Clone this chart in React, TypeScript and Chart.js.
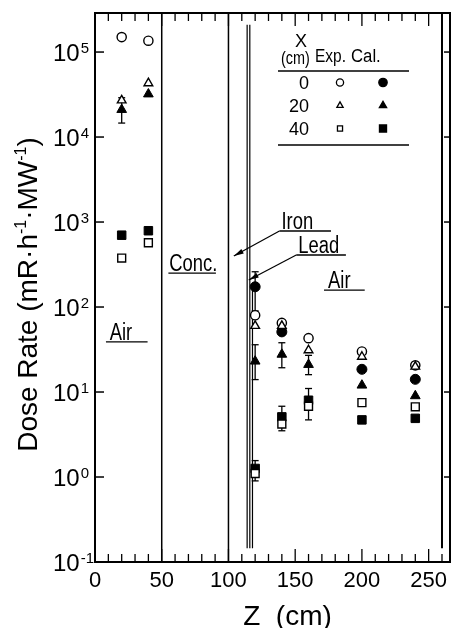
import React, { useEffect, useRef } from "react";
import { Chart, registerables } from "chart.js";

Chart.register(...registerables);

// ---- axis ticks ----
const zTickLabels = [0, 50, 100, 150, 200, 250];
const zMinorTicks = [0, 10, 20, 30, 40, 50, 60, 70, 80, 90, 100, 110, 120, 130, 140, 150, 160, 170, 180, 190, 200, 210, 220, 230, 240, 250, 260];
const decadeExponents = [-1, 0, 1, 2, 3, 4, 5];

// ---- measured (Exp.) dose rates, mR/h/MW, for X = 0, 20, 40 cm ----
const zExp = [20, 40, 120, 140, 160, 200, 240];
const exp0 = [1.5e5, 1.36e5, 80, 65, 43, 30, 20.6];
const exp20 = [2.7e4, 4.3e4, 60, 60, 31, 26, 19.9];
const exp40 = [377, 570, 1.1, 4.2, 6.8, 7.5, 6.7];

// ---- calculated (Cal.) dose rates ----
const zCal0 = [120, 140, 200, 240];
const cal0 = [173, 51, 18.5, 14.1];
const zCal = [20, 40, 120, 140, 160, 200, 240];
const cal20 = [2.1e4, 3.2e4, 23, 27.7, 21, 12, 9.0];
const cal40 = [700, 790, 1.26, 5.1, 8.0, 4.7, 4.9];

// ---- error bars ----
const errZ = [20, 120, 120, 120, 140, 140, 160, 160];
const errLow = [1.46e4, 90, 14, 0.9, 19.3, 3.5, 16, 4.7];
const errHigh = [2.9e4, 260, 36, 1.56, 38, 6.8, 27, 11];

// ---- material boundaries (cm); null span = full height ----
const boundaryZ = [50, 100, 114, 116, 118, 260];
const boundaryTop: (number | null)[] = [null, null, 2.1e5, 2.1e5, 170, null];
const boundaryBottom: (number | null)[] = [null, null, 0.145, 0.145, 0.145, 0.145];
const boundaryWidth = [1.5, 1.5, 1.2, 1.2, 1.2, 2];

// ---- region labels ----
const regionLabels = ["Air", "Conc.", "Iron", "Lead", "Air"];
const regionLabelZ = [11, 55.7, 139.7, 152.3, 174.6];
const regionLabelV = [41, 265, 828, 432, 167];
const regionLineZ0 = [8.2, 55, 138.2, 150.8, 171.6];
const regionLineZ1 = [39.4, 90.6, 176.8, 188, 202.1];
const arrowLabelIndex = [2, 3];
const arrowToZ = [104, 115.2];
const arrowToV = [398, 208];

// ---- legend table ----
const legendX = ["0", "20", "40"];
const legendShapes = ["circle", "triangle", "rect"];

const FONT = '"Liberation Sans", Arial, Helvetica, sans-serif';

function text(
  ctx: CanvasRenderingContext2D,
  s: string,
  x: number,
  y: number,
  size: number,
  align: CanvasTextAlign = "left",
  squeeze = 1
) {
  ctx.save();
  ctx.font = `${size}px ${FONT}`;
  ctx.textAlign = align;
  ctx.textBaseline = "alphabetic";
  ctx.fillStyle = "#000";
  ctx.translate(x, y);
  ctx.scale(squeeze, 1);
  ctx.fillText(s, 0, 0);
  ctx.restore();
}

function textWidth(ctx: CanvasRenderingContext2D, s: string, size: number, squeeze = 1) {
  ctx.save();
  ctx.font = `${size}px ${FONT}`;
  const w = ctx.measureText(s).width * squeeze;
  ctx.restore();
  return w;
}

function line(ctx: CanvasRenderingContext2D, x0: number, y0: number, x1: number, y1: number, w: number) {
  ctx.save();
  ctx.strokeStyle = "#000";
  ctx.lineWidth = w;
  ctx.beginPath();
  ctx.moveTo(x0, y0);
  ctx.lineTo(x1, y1);
  ctx.stroke();
  ctx.restore();
}

function marker(ctx: CanvasRenderingContext2D, shape: string, x: number, y: number, r: number, filled: boolean) {
  ctx.save();
  ctx.beginPath();
  if (shape === "circle") {
    ctx.arc(x, y, r, 0, Math.PI * 2);
  } else if (shape === "triangle") {
    ctx.moveTo(x, y - r);
    ctx.lineTo(x + r * 0.866, y + r * 0.5);
    ctx.lineTo(x - r * 0.866, y + r * 0.5);
    ctx.closePath();
  } else {
    const s = r * Math.SQRT1_2;
    ctx.rect(x - s, y - s, 2 * s, 2 * s);
  }
  ctx.fillStyle = filled ? "#000" : "#fff";
  ctx.fill();
  ctx.lineWidth = 1.3;
  ctx.strokeStyle = "#000";
  ctx.stroke();
  ctx.restore();
}

const decor = {
  id: "decor",
  beforeDatasetsDraw(chart: any) {
    const ctx: CanvasRenderingContext2D = chart.ctx;
    const xs = chart.scales.x;
    const ys = chart.scales.y;
    const a = chart.chartArea;

    // material boundaries
    boundaryZ.forEach((z, i) => {
      const x = xs.getPixelForValue(z);
      const t = boundaryTop[i] == null ? a.top : ys.getPixelForValue(boundaryTop[i]);
      const b = boundaryBottom[i] == null ? a.bottom : ys.getPixelForValue(boundaryBottom[i]);
      line(ctx, x, t, x, b, boundaryWidth[i]);
    });

    // error bars
    errZ.forEach((z, i) => {
      const x = xs.getPixelForValue(z);
      const y0 = ys.getPixelForValue(errLow[i]);
      const y1 = ys.getPixelForValue(errHigh[i]);
      line(ctx, x, y0, x, y1, 1.3);
      line(ctx, x - 3.5, y0, x + 3.5, y0, 1.3);
      line(ctx, x - 3.5, y1, x + 3.5, y1, 1.3);
    });
  },
  afterDatasetsDraw(chart: any) {
    const ctx: CanvasRenderingContext2D = chart.ctx;
    const xs = chart.scales.x;
    const ys = chart.scales.y;
    const a = chart.chartArea;

    // frame
    ctx.save();
    ctx.strokeStyle = "#000";
    ctx.lineWidth = 2;
    ctx.strokeRect(a.left, a.top, a.right - a.left, a.bottom - a.top);
    ctx.restore();

    // z ticks (inward, top and bottom)
    zMinorTicks.forEach((z) => {
      const x = xs.getPixelForValue(z);
      const len = z % 50 === 0 ? 13 : 8;
      line(ctx, x, a.bottom, x, a.bottom - len, 1.3);
      line(ctx, x, a.top, x, a.top + len, 1.3);
    });
    zTickLabels.forEach((z) => {
      const x = xs.getPixelForValue(z);
      text(ctx, String(z), x, a.bottom + 25, 22, "center");
    });

    // decade ticks and labels
    decadeExponents.forEach((e) => {
      const y = ys.getPixelForValue(Math.pow(10, e));
      line(ctx, a.left, y, a.left + 9, y, 1.5);
      line(ctx, a.right, y, a.right - 6, y, 1.5);
      const base = 24;
      const left = a.left - 42;
      text(ctx, "10", left, y + 9, base, "left");
      const w = textWidth(ctx, "10", base);
      text(ctx, e < 0 ? "-" + Math.abs(e) : String(e), left + w + 1, y + 1, 15, "left");
    });

    // y title
    ctx.save();
    ctx.translate(a.left - 58, (a.top + a.bottom) / 2 + 7);
    ctx.rotate(-Math.PI / 2);
    const parts: [string, boolean][] = [
      ["Dose Rate (mR·h", false],
      ["-1", true],
      ["·MW", false],
      ["-1", true],
      [")", false],
    ];
    const sz = (sup: boolean) => (sup ? 16 : 28);
    let total = 0;
    parts.forEach(([t, sup]) => (total += textWidth(ctx, t, sz(sup))));
    let px = -total / 2;
    parts.forEach(([t, sup]) => {
      text(ctx, t, px, sup ? -11 : 0, sz(sup), "left");
      px += textWidth(ctx, t, sz(sup));
    });
    ctx.restore();

    // x title
    text(ctx, "Z  (cm)", xs.getPixelForValue(111), a.bottom + 63, 28, "left");

    // region labels with underlines
    regionLabels.forEach((s, i) => {
      const x = xs.getPixelForValue(regionLabelZ[i]);
      const y = ys.getPixelForValue(regionLabelV[i]);
      text(ctx, s, x, y, 23, "left", 0.8);
      line(ctx, xs.getPixelForValue(regionLineZ0[i]), y + 2, xs.getPixelForValue(regionLineZ1[i]), y + 2, 1.3);
    });

    // arrows from Iron / Lead labels
    arrowLabelIndex.forEach((li, k) => {
      const x0 = xs.getPixelForValue(regionLineZ0[li]);
      const y0 = ys.getPixelForValue(regionLabelV[li]) + 2;
      const x1 = xs.getPixelForValue(arrowToZ[k]);
      const y1 = ys.getPixelForValue(arrowToV[k]);
      line(ctx, x0, y0, x1, y1, 1.2);
      const ang = Math.atan2(y1 - y0, x1 - x0);
      ctx.save();
      ctx.translate(x1, y1);
      ctx.rotate(ang);
      ctx.beginPath();
      ctx.moveTo(0, 0);
      ctx.lineTo(-10, -2.5);
      ctx.lineTo(-10, 2.5);
      ctx.closePath();
      ctx.fillStyle = "#000";
      ctx.fill();
      ctx.restore();
    });

    // legend table
    const lx = a.right;
    const ly = a.top;
    text(ctx, "X", lx - 149, ly + 34, 18, "center");
    text(ctx, "(cm)", lx - 169, ly + 51, 18, "left", 0.8);
    text(ctx, "Exp.", lx - 135, ly + 49, 18, "left", 0.86);
    text(ctx, "Cal.", lx - 99, ly + 49, 18, "left", 0.93);
    line(ctx, lx - 172, ly + 58, lx - 41, ly + 58, 1.5);
    legendX.forEach((s, i) => {
      const ry = ly + 69.5 + i * 23;
      text(ctx, s, lx - 141, ry + 6.5, 18, "right");
      marker(ctx, legendShapes[i], lx - 110, ry, 3.6, false);
      marker(ctx, legendShapes[i], lx - 67, ry, legendShapes[i] === "rect" ? 5 : 4.2, true);
    });
    line(ctx, lx - 172, ly + 132, lx - 41, ly + 132, 1.5);
  },
};

function pts(zs: number[], vs: number[]) {
  return zs.map((z, i) => ({ x: z, y: vs[i] }));
}

export default function App() {
  const ref = useRef<HTMLCanvasElement>(null);

  useEffect(() => {
    const open = { backgroundColor: "#fff", borderColor: "#000", pointBorderWidth: 1.4, showLine: false };
    const solid = { backgroundColor: "#000", borderColor: "#000", pointBorderWidth: 1, showLine: false };
    const chart = new Chart(ref.current as HTMLCanvasElement, {
      type: "scatter",
      data: {
        datasets: [
          { label: "Exp. X=20", data: pts(zExp, exp20), pointStyle: "triangle", pointRadius: 5, ...open },
          { label: "Exp. X=40", data: pts(zExp, exp40), pointStyle: "rect", pointRadius: 5.6, ...open },
          { label: "Exp. X=0", data: pts(zExp, exp0), pointStyle: "circle", pointRadius: 4.6, ...open },
          { label: "Cal. X=20", data: pts(zCal, cal20), pointStyle: "triangle", pointRadius: 5.6, ...solid },
          { label: "Cal. X=40", data: pts(zCal, cal40), pointStyle: "rect", pointRadius: 6, ...solid },
          { label: "Cal. X=0", data: pts(zCal0, cal0), pointStyle: "circle", pointRadius: 5, ...solid },
        ],
      },
      options: {
        animation: false,
        responsive: false,
        maintainAspectRatio: false,
        layout: { padding: { left: 95, right: 4, top: 13, bottom: 66 } },
        scales: {
          x: { type: "linear", min: 0, max: 266, display: false },
          y: { type: "logarithmic", min: 0.1, max: 2.88e5, display: false },
        },
        plugins: { legend: { display: false }, tooltip: { enabled: false } },
      },
      plugins: [decor],
    });
    return () => chart.destroy();
  }, []);

  return (
    <div style={{ position: "absolute", left: 0, top: 0, width: 457, height: 628, background: "#fff" }}>
      <canvas ref={ref} width={457} height={628} style={{ display: "block", width: 457, height: 628 }} />
    </div>
  );
}
